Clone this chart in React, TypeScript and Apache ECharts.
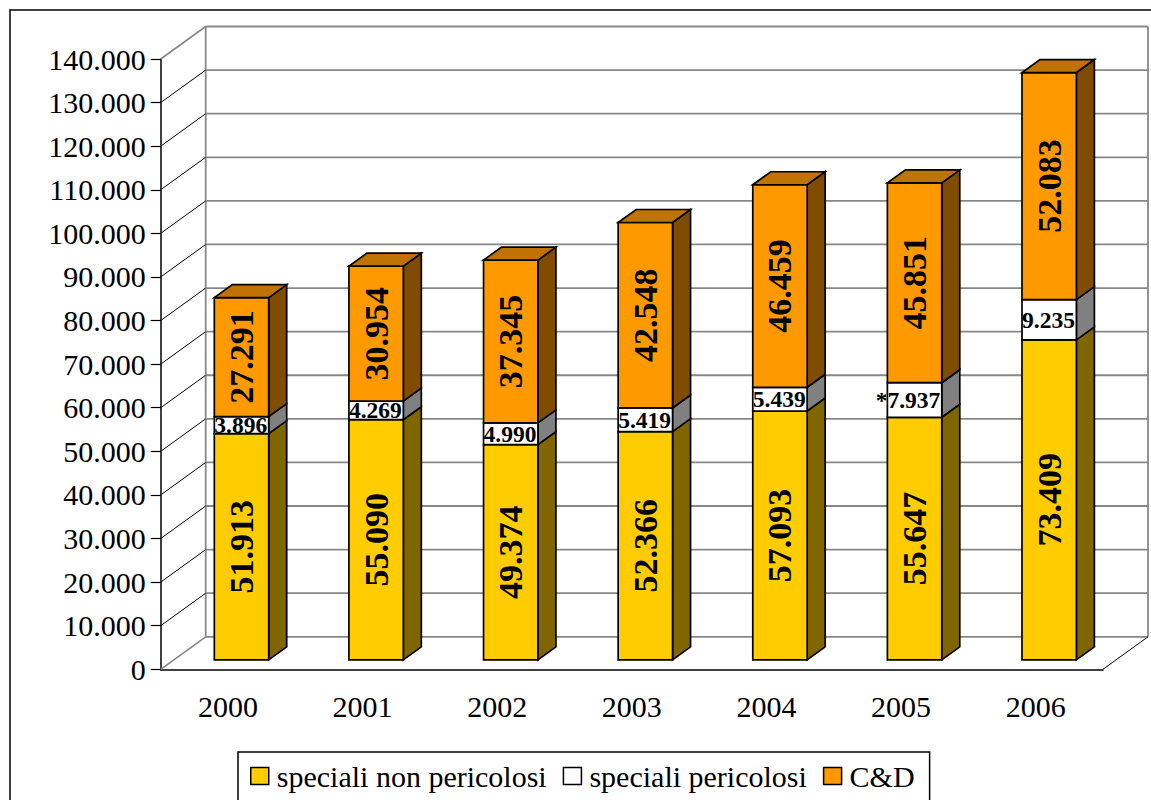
import React, { useEffect, useRef } from 'react';
import * as echarts from 'echarts';

const years = ['2000', '2001', '2002', '2003', '2004', '2005', '2006'];
const specialiNonPericolosi = [51913, 55090, 49374, 52366, 57093, 55647, 73409];
const specialiPericolosi = [3896, 4269, 4990, 5419, 5439, 7937, 9235];
const cAndD = [27291, 30954, 37345, 42548, 46459, 45851, 52083];
const pericolosiNotes = ['', '', '', '', '', '*', ''];
const yTicks = [0, 10000, 20000, 30000, 40000, 50000, 60000, 70000, 80000, 90000, 100000, 110000, 120000, 130000, 140000];
const seriesNames = ['speciali non pericolosi', 'speciali pericolosi', 'C&D'];

const FONT = 'Liberation Serif';
const frontColors = ['#FFCC00', '#FFFFFF', '#FF9900'];
const sideColors = ['#806600', '#808080', '#804C00'];
const topColors = ['#BF9900', '#BFBFBF', '#C07300'];

const DX = 45;
const DY = -32.5;

const fmt = (v: number) => String(Math.round(v)).replace(/\B(?=(\d{3})+(?!\d))/g, '.');

function renderWalls(params: any, api: any) {
  const cs = params.coordSys;
  const x0 = cs.x;
  const x1 = cs.x + cs.width;
  const v = api.value(1);
  const idx = params.dataIndex;
  const last = yTicks.length - 1;
  const y = api.coord([0, v])[1];
  const edge = idx === 0 || idx === last;
  const children: any[] = [
    {
      type: 'line',
      shape: { x1: x0, y1: y, x2: x0 + DX, y2: y + DY },
      style: { stroke: edge ? '#878787' : '#000', lineWidth: edge ? 1.6 : 1 },
    },
    {
      type: 'line',
      shape: { x1: x0 + DX, y1: y + DY, x2: x1 + DX, y2: y + DY },
      style: { stroke: '#878787', lineWidth: 1.8 },
    },
  ];
  if (idx === 0) {
    const yTop = api.coord([0, yTicks[last]])[1];
    children.push(
      { type: 'line', shape: { x1: x0 + DX, y1: y + DY, x2: x0 + DX, y2: yTop + DY }, style: { stroke: '#878787', lineWidth: 1.8 } },
      { type: 'line', shape: { x1: x1 + DX, y1: y + DY, x2: x1 + DX, y2: yTop + DY }, style: { stroke: '#878787', lineWidth: 1.8 } },
      { type: 'line', shape: { x1: x1, y1: y, x2: x1 + DX, y2: y + DY }, style: { stroke: '#000', lineWidth: 1 } }
    );
  }
  return { type: 'group', children };
}

const makeRender = (k: number) => (params: any, api: any) => {
  const cat = api.value(0);
  const lo = api.value(1);
  const hi = api.value(2);
  const pLo = api.coord([cat, lo]);
  const pHi = api.coord([cat, hi]);
  const bw = api.size([1, 0])[0];
  const w = bw * 0.404;
  const fx = DX * 0.3;
  const fy = DY * 0.29;
  const dx = DX * 0.4;
  const dy = DY * 0.4;
  const xl = pLo[0] - w / 2 + fx;
  const xr = xl + w;
  const yb = pLo[1] + fy;
  const yt = pHi[1] + fy;
  const stroke = { stroke: '#000', lineWidth: 1.7, lineJoin: 'miter' };
  const children: any[] = [
    {
      type: 'polygon',
      shape: { points: [[xr, yb], [xr + dx, yb + dy], [xr + dx, yt + dy], [xr, yt]] },
      style: { fill: sideColors[k], ...stroke },
    },
    {
      type: 'rect',
      shape: { x: xl, y: yt, width: w, height: yb - yt },
      style: { fill: frontColors[k], ...stroke },
    },
  ];
  if (k === 2) {
    children.push({
      type: 'polygon',
      shape: { points: [[xl, yt], [xr, yt], [xr + dx, yt + dy], [xl + dx, yt + dy]] },
      style: { fill: topColors[k], ...stroke },
    });
  }
  const val = hi - lo;
  const cy = (yt + yb) / 2;
  if (k === 1) {
    children.push({
      type: 'text',
      x: xr - 1.5,
      y: cy,
      style: {
        text: pericolosiNotes[params.dataIndex] + fmt(val),
        fill: '#000',
        fontFamily: FONT,
        fontSize: 23.5,
        fontWeight: 'bold',
        align: 'right',
        verticalAlign: 'middle',
      },
    });
  } else {
    children.push({
      type: 'text',
      x: (xl + xr) / 2,
      y: cy,
      rotation: Math.PI / 2,
      style: {
        text: fmt(val),
        fill: '#000',
        fontFamily: FONT,
        fontSize: 34,
        fontWeight: 'bold',
        align: 'center',
        verticalAlign: 'middle',
      },
    });
  }
  return { type: 'group', children };
};

export default function App() {
  const ref = useRef<HTMLDivElement>(null);
  useEffect(() => {
    document.body.style.margin = '0';
    if (!ref.current) return;
    const chart = echarts.init(ref.current, undefined, { renderer: 'svg' });
    const stacks = [specialiNonPericolosi, specialiPericolosi, cAndD];
    const cumulative = years.map(() => 0);
    const stackSeries = stacks.map((arr, k) => {
      const data = arr.map((v, i) => {
        const lo = cumulative[i];
        cumulative[i] += v;
        return [i, lo, lo + v];
      });
      return {
        type: 'custom',
        name: seriesNames[k],
        renderItem: makeRender(k),
        data,
        encode: { x: 0, y: [1, 2] },
        clip: false,
        z: 3,
        itemStyle: { color: frontColors[k], borderColor: '#000', borderWidth: 1.5 },
      };
    });
    chart.setOption({
      animation: false,
      backgroundColor: '#fff',
      textStyle: { fontFamily: FONT },
      grid: { left: 160.7, right: 48, top: 59, bottom: 130.7, containLabel: false },
      graphic: [
        {
          type: 'rect',
          shape: { x: 10, y: 10, width: 1300, height: 1000 },
          style: { fill: 'none', stroke: '#000', lineWidth: 1.5 },
          z: -1,
        },
      ],
      legend: {
        data: seriesNames,
        left: 238,
        top: 752,
        icon: 'rect',
        itemWidth: 18,
        itemHeight: 17,
        itemGap: 16,
        padding: [9, 15, 40, 12],
        borderColor: '#000',
        borderWidth: 1.5,
        selectedMode: false,
        itemStyle: { borderColor: '#000', borderWidth: 1.5 },
        textStyle: { fontFamily: FONT, fontSize: 30, color: '#000', padding: [0, 0, 0, 3] },
      },
      xAxis: {
        type: 'category',
        data: years,
        boundaryGap: true,
        axisLine: { lineStyle: { color: '#000', width: 1.5 } },
        axisTick: { length: 11, lineStyle: { color: '#000', width: 1.2 } },
        axisLabel: { fontFamily: FONT, fontSize: 30, color: '#000', margin: 22 },
        splitLine: { show: false },
      },
      yAxis: {
        type: 'value',
        min: 0,
        max: 140000,
        interval: 10000,
        axisLine: { show: true, lineStyle: { color: '#000', width: 1.5 } },
        axisTick: { show: true, length: 10, lineStyle: { color: '#000', width: 1.2 } },
        axisLabel: { fontFamily: FONT, fontSize: 30, color: '#000', margin: 15, formatter: (v: number) => fmt(v) },
        splitLine: { show: false },
      },
      series: [
        {
          type: 'custom',
          name: 'walls',
          renderItem: renderWalls,
          data: yTicks.map((v) => [0, v]),
          encode: { x: 0, y: 1 },
          clip: false,
          silent: true,
          z: 1,
        },
        ...stackSeries,
      ],
    });
    return () => chart.dispose();
  }, []);
  return <div ref={ref} style={{ width: 1151, height: 800 }} />;
}
